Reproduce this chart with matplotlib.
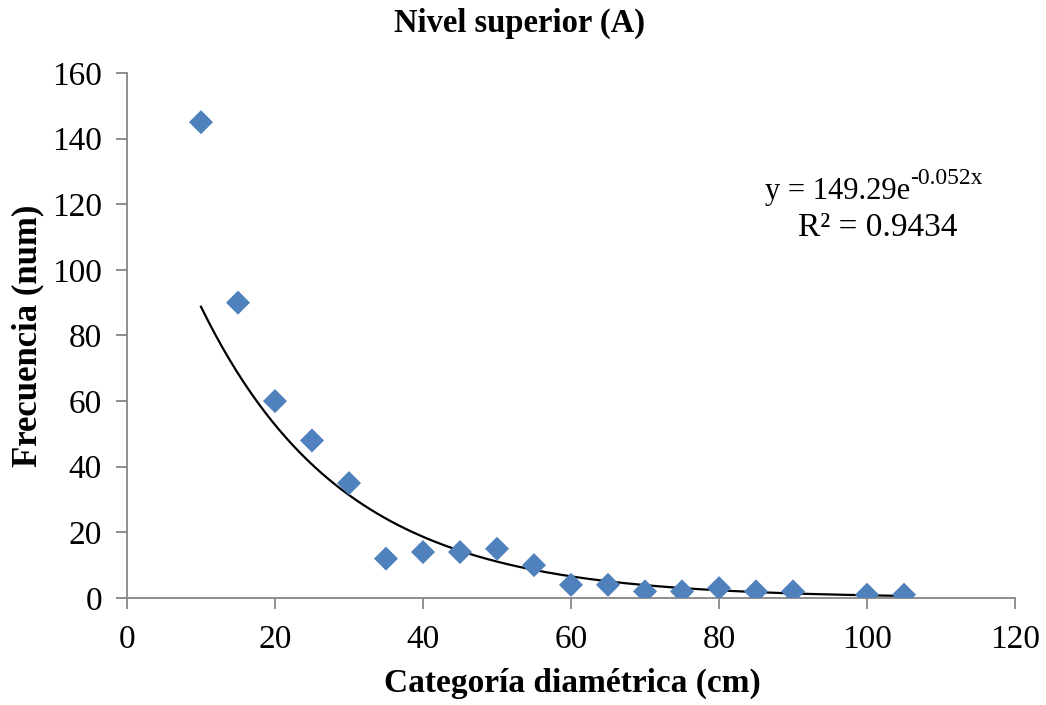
import numpy as np
import matplotlib
matplotlib.use("Agg")
import matplotlib.pyplot as plt

# Diameter classes (cm) and observed frequency
diametro = [10, 15, 20, 25, 30, 35, 40, 45, 50, 55, 60, 65, 70, 75, 80, 85, 90, 100, 105]
frecuencia = [145, 90, 60, 48, 35, 12, 14, 14, 15, 10, 4, 4, 2, 2, 3, 2, 2, 1, 1]

# Exponential trendline as reported on the chart
coef_a = 149.29
coef_b = -0.052
r2 = 0.9434

plt.rcParams['font.family'] = ['Liberation Serif', 'DejaVu Serif']

fig = plt.figure(figsize=(10.46, 7.05), dpi=100)
ax = fig.add_axes([0.1214, 0.1518, 0.849, 0.7447])

ax.scatter(diametro, frecuencia, marker='D', s=150, color='#4F81BD',
           edgecolors='none', zorder=3)

xs = np.linspace(min(diametro), max(diametro), 200)
ax.plot(xs, coef_a * np.exp(coef_b * xs), color='black', lw=1.6, zorder=2)

ax.set_xlim(0, 120)
ax.set_ylim(0, 160)
ax.set_xticks(np.arange(0, 121, 20))
ax.set_yticks(np.arange(0, 161, 20))

for side in ['top', 'right']:
    ax.spines[side].set_visible(False)
for side in ['left', 'bottom']:
    ax.spines[side].set_color('#868686')
    ax.spines[side].set_linewidth(1.3)
ax.tick_params(axis='both', direction='out', length=8, width=1.3,
               color='#868686', labelsize=24)
ax.tick_params(axis='x', pad=11)
ax.tick_params(axis='y', pad=10)

# titles / axis labels placed in figure coords
fig.text(0.497, 0.967, 'Nivel superior (A)', fontsize=23.5, fontweight='bold',
         ha='center', va='center')
fig.text(0.547, 0.030, 'Categoría diamétrica (cm)', fontsize=24, fontweight='bold',
         ha='center', va='center')
fig.text(0.027, 0.524, 'Frecuencia (num)', fontsize=25, fontweight='bold',
         ha='center', va='center', rotation=90)

# trendline equation
eq = ax.text(86.2, 123.8, 'y = %.2fe' % coef_a, fontsize=22, ha='left', va='center')
ax.annotate('%.3fx' % coef_b, xy=(1, 0.6), xycoords=eq, fontsize=17,
            ha='left', va='bottom')
ax.text(101.5, 112.8, 'R² = %.4f' % r2, fontsize=24, ha='center', va='center')

fig.savefig('out.png', dpi=100)
